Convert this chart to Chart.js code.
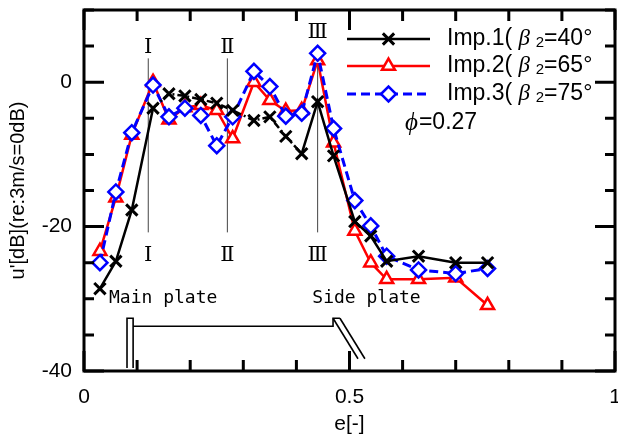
<!DOCTYPE html>
<html>
<head>
<meta charset="utf-8">
<script src="https://cdn.jsdelivr.net/npm/chart.js@4.4.1/dist/chart.umd.min.js"></script>
<style>
  html, body { margin: 0; padding: 0; background: #fff; }
  #wrap { width: 618px; height: 439px; }
</style>
</head>
<body>
<div id="wrap"><canvas id="myChart"></canvas></div>
<script>
// e[-] positions shared by all three impellers
const ePos = [0.03, 0.06, 0.09, 0.13, 0.16, 0.19, 0.22, 0.25, 0.28, 0.32, 0.35, 0.38, 0.41, 0.44, 0.47, 0.51, 0.54, 0.57, 0.63, 0.70, 0.76];
const imp1 = [-28.6, -24.8, -17.7, -3.6, -1.6, -1.9, -2.4, -2.9, -3.9, -5.3, -4.8, -7.5, -9.9, -2.7, -10.2, -19.3, -21.3, -24.8, -24.1, -25.0, -25.0];
const imp2 = [-23.4, -16.0, -7.3, 0.0, -5.2, -3.5, -3.2, -3.9, -7.8, 0.0, -2.5, -4.0, -3.9, 3.0, -8.4, -20.6, -25.0, -27.3, -27.3, -27.1, -30.9];
const imp3 = [-25.0, -15.2, -7.0, -0.4, -4.8, -3.6, -4.6, -8.8, -4.8, 1.5, -0.6, -4.7, -4.3, 4.0, -6.4, -16.4, -19.9, -24.1, -26.0, -26.5, -25.8];

const seriesNames = ["Imp.1(", "Imp.2(", "Imp.3("];
const betaValues = ["=40°", "=65°", "=75°"];
const flowCoef = "=0.27";

const sectionLabels = ["Ⅰ", "Ⅱ", "Ⅲ"];
const sectionPos = [0.121, 0.27, 0.44];

const xTickLabels = [0, 0.5, 1];
const yTickLabels = [-40, -20, 0];

const toPoints = (ys) => ys.map((y, i) => ({ x: ePos[i], y: y }));

const datasets = [
  {
    label: seriesNames[0],
    data: toPoints(imp1),
    borderColor: "#000",
    borderWidth: 2.5,
    pointStyle: "crossRot",
    pointRadius: 8,
    pointBorderWidth: 3,
    pointBorderColor: "#000",
    order: 0,
    segment: {
      // the middle part of Imp.1 is drawn dash-dot in the original
      borderDash: (ctx) =>
        ctx.p0.parsed.x > 0.12 && ctx.p1.parsed.x < 0.42 ? [7, 3, 2, 3] : undefined,
    },
  },
  {
    label: seriesNames[1],
    data: toPoints(imp2),
    borderColor: "#ff0000",
    borderWidth: 2.5,
    pointStyle: "triangle",
    pointRadius: 7.5,
    pointBorderWidth: 2.5,
    pointBorderColor: "#ff0000",
    pointBackgroundColor: "#fff",
    order: 2,
  },
  {
    label: seriesNames[2],
    data: toPoints(imp3),
    borderColor: "#0000ff",
    borderWidth: 3,
    borderDash: [9, 5],
    pointStyle: "rectRot",
    pointRadius: 7.5,
    pointBorderWidth: 2.5,
    pointBorderColor: "#0000ff",
    pointBackgroundColor: "#fff",
    order: 1,
  },
];

// frame with inward ticks on all four sides
const framePlugin = {
  id: "frame",
  afterDraw(chart) {
    const { ctx, chartArea: a, scales } = chart;
    const xs = scales.x, ys = scales.y;
    ctx.save();
    ctx.strokeStyle = "#000";
    ctx.lineWidth = 3;
    ctx.lineCap = "butt";
    ctx.strokeRect(a.left, a.top, a.right - a.left, a.bottom - a.top);
    xs.ticks.forEach((t) => {
      const px = xs.getPixelForValue(t.value);
      const len = xTickLabels.some((v) => Math.abs(v - t.value) < 1e-6) ? 20 : 11;
      ctx.beginPath();
      ctx.moveTo(px, a.bottom); ctx.lineTo(px, a.bottom - len);
      ctx.moveTo(px, a.top); ctx.lineTo(px, a.top + len);
      ctx.stroke();
    });
    ys.ticks.forEach((t) => {
      const py = ys.getPixelForValue(t.value);
      const len = yTickLabels.includes(t.value) ? 20 : 10;
      ctx.beginPath();
      ctx.moveTo(a.left, py); ctx.lineTo(a.left + len, py);
      ctx.moveTo(a.right, py); ctx.lineTo(a.right - len, py);
      ctx.stroke();
    });
    ctx.restore();
  },
};

// section lines I, II, III and the plate sketch, placed in data units
const sketchPlugin = {
  id: "sketch",
  beforeDatasetsDraw(chart) {
    const { ctx, scales } = chart;
    const X = (v) => scales.x.getPixelForValue(v);
    const Y = (v) => scales.y.getPixelForValue(v);
    ctx.save();
    ctx.strokeStyle = "#444";
    ctx.lineWidth = 1;
    sectionPos.forEach((p) => {
      ctx.beginPath();
      ctx.moveTo(X(p), Y(3.3));
      ctx.lineTo(X(p), Y(-20.8));
      ctx.stroke();
    });

    ctx.fillStyle = "#000";
    ctx.font = '21px "DejaVu Serif", "Noto Sans CJK JP", serif';
    ctx.textAlign = "center";
    ctx.textBaseline = "middle";
    sectionLabels.forEach((s, i) => {
      const topVal = i === 2 ? 6.9 : 4.8;
      ctx.fillText(s, X(sectionPos[i]), Y(topVal));
      ctx.fillText(s, X(sectionPos[i]), Y(-24.0));
    });

    ctx.font = '18px "DejaVu Sans Mono", "Liberation Mono", monospace';
    ctx.textAlign = "left";
    ctx.fillText("Main plate", X(0.047), Y(-30.0));
    ctx.fillText("Side plate", X(0.43), Y(-30.0));

    // plate outline
    ctx.strokeStyle = "#000";
    ctx.lineWidth = 1.6;
    const line = (pts) => {
      ctx.beginPath();
      pts.forEach(([x, y], k) => (k ? ctx.lineTo(X(x), Y(y)) : ctx.moveTo(X(x), Y(y))));
      ctx.stroke();
    };
    line([[0.081, -39.6], [0.081, -32.7], [0.0925, -32.7], [0.0925, -39.6]]);
    line([[0.0925, -33.8], [0.469, -33.8], [0.469, -32.7], [0.482, -32.7]]);
    line([[0.469, -32.7], [0.516, -38.3]]);
    line([[0.482, -32.7], [0.529, -38.3]]);
    ctx.restore();
  },
  afterDraw(chart) {
    const { ctx, chartArea: a } = chart;
    const h = Chart.helpers;
    ctx.save();
    const rowY = [a.top + 29, a.top + 56, a.top + 84];
    const x0 = a.left + 263, x1 = a.left + 346, xm = (x0 + x1) / 2, tx = a.left + 363;
    datasets.forEach((ds, i) => {
      const y = rowY[i];
      ctx.strokeStyle = ds.borderColor;
      ctx.lineWidth = ds.borderWidth;
      ctx.setLineDash(ds.borderDash || []);
      ctx.beginPath();
      ctx.moveTo(x0, y); ctx.lineTo(x1, y);
      ctx.stroke();
      ctx.setLineDash([]);
      ctx.strokeStyle = ds.pointBorderColor;
      ctx.fillStyle = ds.pointBackgroundColor || "#fff";
      ctx.lineWidth = ds.pointBorderWidth;
      h.drawPoint(ctx, { pointStyle: ds.pointStyle, radius: ds.pointRadius, rotation: 0, borderWidth: ds.pointBorderWidth }, xm, y);

      ctx.fillStyle = "#000";
      ctx.textBaseline = "middle";
      ctx.textAlign = "left";
      let cx = tx;
      ctx.font = '23px "Liberation Sans", Arial, sans-serif';
      const head = seriesNames[i] + " ";
      ctx.fillText(head, cx, y);
      cx += ctx.measureText(head).width;
      ctx.font = 'italic 23px "Liberation Serif", serif';
      ctx.fillText("β", cx, y);
      cx += ctx.measureText("β ").width;
      ctx.font = '15px "Liberation Sans", Arial, sans-serif';
      ctx.fillText("2", cx, y + 4);
      cx += ctx.measureText("2").width;
      ctx.font = '23px "Liberation Sans", Arial, sans-serif';
      ctx.fillText(betaValues[i], cx, y);
    });
    let px = a.left + 321;
    const py = a.top + 113;
    ctx.font = 'italic 25px "Liberation Serif", serif';
    ctx.fillText("ϕ", px, py);
    px += ctx.measureText("ϕ").width + 1;
    ctx.font = '23px "Liberation Sans", Arial, sans-serif';
    ctx.fillText(flowCoef, px, py);
    ctx.restore();
  },
};

const tickFont = { family: '"Liberation Sans", Arial, sans-serif', size: 21 };

const ctx = document.getElementById("myChart").getContext("2d");
const myChart = new Chart(ctx, {
  type: "line",
  data: { datasets: datasets },
  options: {
    responsive: true,
    maintainAspectRatio: false,
    animation: false,
    layout: { autoPadding: false, padding: { top: 10, right: 3, left: 0, bottom: 0 } },
    plugins: {
      legend: { display: false },
      tooltip: { enabled: false },
    },
    scales: {
      x: {
        type: "linear",
        min: 0,
        max: 1,
        grid: { display: false, drawTicks: false },
        border: { display: false },
        ticks: {
          stepSize: 0.1,
          autoSkip: false,
          maxRotation: 0,
          padding: 14,
          color: "#000",
          font: tickFont,
          callback: (v) => (xTickLabels.some((t) => Math.abs(t - v) < 1e-6) ? String(Math.round(v * 10) / 10) : ""),
        },
        title: {
          display: true,
          text: "e[-]",
          color: "#000",
          font: tickFont,
          padding: { top: 0, bottom: 2 },
        },
        afterFit(scale) {
          scale.height = 68;
          scale.paddingLeft = 0;
          scale.paddingRight = 0;
        },
      },
      y: {
        min: -40,
        max: 10,
        grid: { display: false, drawTicks: false },
        border: { display: false },
        ticks: {
          stepSize: 5,
          autoSkip: false,
          padding: 12,
          color: "#000",
          font: tickFont,
          callback: (v) => (yTickLabels.includes(v) ? String(v) : ""),
        },
        title: {
          display: true,
          text: "u'[dB](re:3m/s=0dB)",
          color: "#000",
          font: { family: '"Liberation Sans", Arial, sans-serif', size: 20 },
          padding: { top: 6, bottom: 0 },
        },
        afterFit(scale) {
          scale.width = 84;
          scale.paddingTop = 0;
          scale.paddingBottom = 0;
        },
      },
    },
  },
  plugins: [sketchPlugin, framePlugin],
});
</script>
</body>
</html>
